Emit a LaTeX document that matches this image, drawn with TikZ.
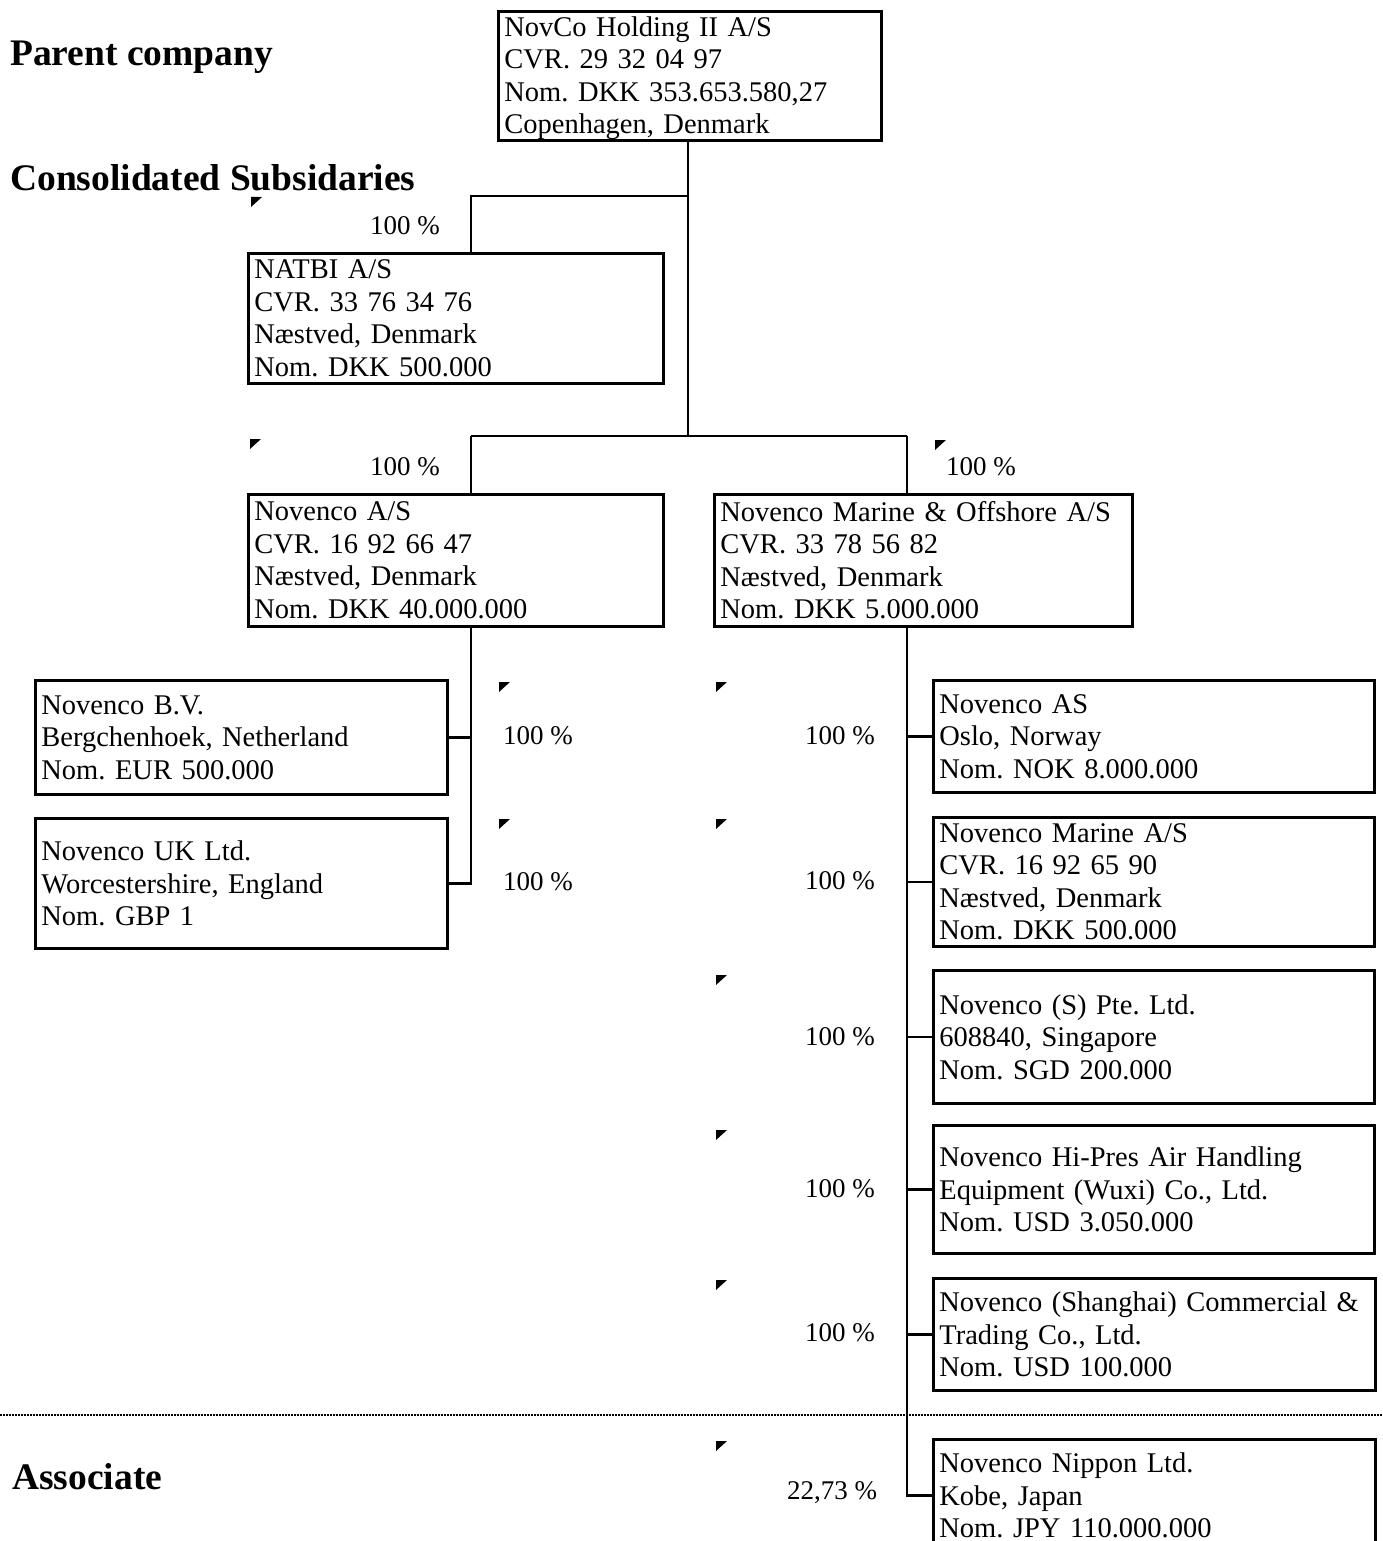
\documentclass[tikz,border=0pt]{standalone}
\usepackage{fontspec}
\setmainfont{Liberation Serif}
\frenchspacing
\begin{document}
\begin{tikzpicture}[x=1pt,y=-1pt,
  cbox/.style={draw, line width=2.8pt, anchor=north west, inner xsep=6pt, inner ysep=0pt, align=left,
    font=\fontsize{28.5}{32.5}\selectfont},
  pct/.style={font=\fontsize{27}{30}\selectfont, inner sep=0pt},
  head/.style={font=\bfseries\fontsize{37.5}{40}\selectfont, anchor=west, inner sep=0pt},
  conn/.style={line width=2.8pt}]
\useasboundingbox (0,0) rectangle (1382,1541);
\clip (0,0) rectangle (1382,1541);

% headings
\node[head] (hparent) at (10,57) {Parent company};
\node[head] (hcons) at (10,178) {Consolidated Subsidaries};
\node[head] (hassoc) at (12,1477) {Associate};

% boxes
\node[cbox, minimum width=383, minimum height=129, text width=371] (holding) at (497,10)
  {\rule{0pt}{24pt}NovCo Holding II A/S\\CVR. 29 32 04 97\\Nom. DKK 353.653.580,27\\Copenhagen, Denmark};
\node[cbox, minimum width=415, minimum height=130, text width=403] (natbi) at (247,252)
  {NATBI A/S\\CVR. 33 76 34 76\\Næstved, Denmark\\Nom. DKK 500.000};
\node[cbox, minimum width=415, minimum height=132, text width=403] (novas) at (247,493)
  {Novenco A/S\\CVR. 16 92 66 47\\Næstved, Denmark\\Nom. DKK 40.000.000};
\node[cbox, minimum width=418, minimum height=132, text width=406] (marine) at (713,493)
  {Novenco Marine \& Offshore A/S\\CVR. 33 78 56 82\\Næstved, Denmark\\Nom. DKK 5.000.000};
\node[cbox, minimum width=412, minimum height=114, text width=400] (bv) at (34,679)
  {Novenco B.V.\\Bergchenhoek, Netherland\\Nom. EUR 500.000};
\node[cbox, minimum width=412, minimum height=130, text width=400] (uk) at (34,817)
  {Novenco UK Ltd.\\Worcestershire, England\\Nom. GBP 1};
\node[cbox, minimum width=441, minimum height=112, text width=429] (nas) at (932,679)
  {Novenco AS\\Oslo, Norway\\Nom. NOK 8.000.000};
\node[cbox, minimum width=441, minimum height=129, text width=429] (nmarine) at (932,816)
  {Novenco Marine A/S\\CVR. 16 92 65 90\\Næstved, Denmark\\Nom. DKK 500.000};
\node[cbox, minimum width=441, minimum height=133, text width=429] (ns) at (932,969)
  {Novenco (S) Pte. Ltd.\\608840, Singapore\\Nom. SGD 200.000};
\node[cbox, minimum width=441, minimum height=128, text width=429] (hipres) at (932,1124)
  {Novenco Hi-Pres Air Handling\\Equipment (Wuxi) Co., Ltd.\\Nom. USD 3.050.000};
\node[cbox, minimum width=442, minimum height=112, text width=430] (shanghai) at (932,1277)
  {Novenco (Shanghai) Commercial \&\\Trading Co., Ltd.\\Nom. USD 100.000};
\node[cbox, minimum width=442, minimum height=112, text width=430] (nippon) at (932,1438)
  {Novenco Nippon Ltd.\\Kobe, Japan\\Nom. JPY 110.000.000};

% junction coordinates
\coordinate (j1) at (688,196);
\coordinate (j2) at (688,436);
\coordinate (jl) at (471,436);
\coordinate (jr) at (907,436);

% connectors
\draw[conn] (holding.south -| j1) -- (j2);
\draw[conn] (j1) -| (natbi.north -| jl);
\draw[conn] (jl) -- (jr);
\draw[conn] (jl) -- (novas.north -| jl);
\draw[conn] (jr) -- (marine.north -| jr);
\draw[conn] (novas.south -| jl) |- (bv.east);
\draw[conn] (novas.south -| jl) |- (uk.east);
\draw[conn] (marine.south -| jr) |- (nas.west);
\draw[conn] (marine.south -| jr) |- (nmarine.west);
\draw[conn] (marine.south -| jr) |- (ns.west);
\draw[conn] (marine.south -| jr) |- (hipres.west);
\draw[conn] (marine.south -| jr) |- (shanghai.west);
\draw[conn] (marine.south -| jr) |- (nippon.west);

% percentages
\node[pct] (p1) at (405,226) {100 \%};
\node[pct] (p2) at (405,467) {100 \%};
\node[pct] (p3) at (981,467) {100 \%};
\node[pct] (p4) at (538,736) {100 \%};
\node[pct] (p5) at (538,882) {100 \%};
\node[pct] (p6) at (840,736) {100 \%};
\node[pct] (p7) at (840,881) {100 \%};
\node[pct] (p8) at (840,1037) {100 \%};
\node[pct] (p9) at (840,1189) {100 \%};
\node[pct] (p10) at (840,1333) {100 \%};
\node[pct] (p11) at (832,1493) {22,73 \%};

% comment markers
\foreach \x/\y in {251/197, 250/439, 935/440, 499/682, 716/682, 499/819, 716/819, 716/975, 716/1130, 716/1280, 716/1441}
  \fill[black] (\x,\y) -- ++(11,0) -- ++(-11,10) -- cycle;

% associate separator
\draw[line width=1.6pt, dash pattern=on 2pt off 1pt] (0,1415) -- (1382,1415);
\end{tikzpicture}
\end{document}
